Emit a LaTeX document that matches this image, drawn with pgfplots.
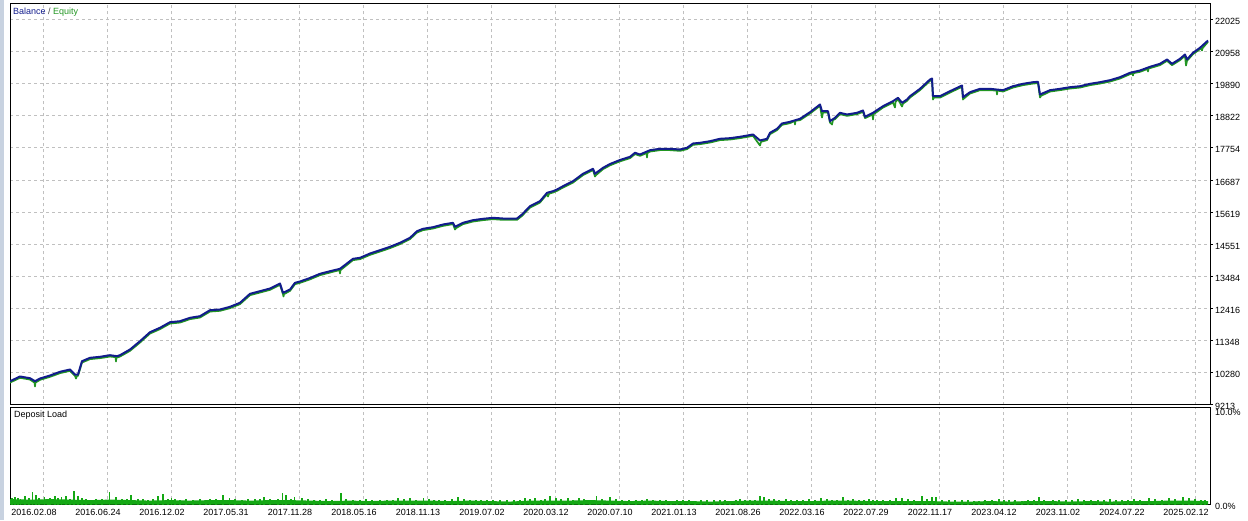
\documentclass[border=0pt]{standalone}
\usepackage{pgfplots}
\pgfplotsset{compat=1.18}
\usepackage{pgfplotstable}
\usepackage{fontspec}
\setmainfont{Liberation Sans}

\definecolor{bal}{RGB}{18,28,140}
\definecolor{eq}{RGB}{34,150,34}
\definecolor{load}{RGB}{20,168,20}
\definecolor{gridc}{RGB}{192,192,192}
\definecolor{winframe}{RGB}{200,210,224}

% balance, x = position along the test (pixels of the chart)
\pgfplotstableread{
x b
0 9988
10 10145
20 10088
25 9988
30 10078
40 10178
50 10301
60 10378
65 10211
68 10211
72 10654
80 10767
90 10800
100 10854
107 10820
110 10854
120 11043
130 11320
140 11619
150 11766
160 11952
170 11985
180 12098
190 12152
200 12351
210 12375
220 12464
230 12598
240 12897
250 12984
260 13073
270 13240
273 12930
280 13040
285 13263
290 13306
300 13423
310 13563
320 13649
330 13729
343 14062
350 14095
360 14238
370 14348
380 14461
390 14594
400 14761
407 14980
413 15060
423 15114
433 15203
443 15260
445 15127
453 15260
463 15347
473 15393
483 15426
493 15403
507 15403
512 15536
520 15812
530 15979
537 16258
543 16312
547 16368
553 16478
563 16644
573 16891
583 17057
585 16891
593 17090
600 17217
610 17350
620 17456
625 17590
630 17533
640 17676
650 17723
660 17723
670 17699
677 17756
683 17899
690 17922
700 17976
710 18056
720 18076
730 18122
743 18199
750 17999
757 18056
760 18255
767 18388
772 18565
780 18621
790 18721
800 18941
810 19197
812 18974
818 18974
820 18641
825 18754
830 18921
837 18864
847 18921
853 18997
855 18788
863 18921
873 19140
883 19307
888 19420
892 19254
897 19363
900 19473
910 19719
920 20029
922 20062
923 19473
930 19473
940 19640
952 19829
953 19440
960 19606
970 19719
980 19719
993 19673
1003 19806
1013 19886
1023 19939
1028 19952
1030 19530
1040 19673
1050 19719
1060 19773
1070 19806
1080 19886
1090 19939
1100 20006
1110 20106
1120 20252
1130 20329
1140 20452
1150 20552
1157 20695
1162 20552
1170 20718
1175 20861
1177 20695
1183 20918
1190 21084
1198 21327
}\balance

\pgfplotstableread{
x e
0 9943
10 10100
20 10043
24.5 9943
25 9812
25.5 9943
30 10033
40 10133
50 10256
60 10333
65 10166
66 10078
67 10166
68 10166
72 10609
80 10722
90 10755
100 10809
105.5 10790
106 10644
106.5 10790
107 10775
110 10809
120 10998
130 11275
140 11574
150 11721
160 11907
170 11940
180 12053
190 12107
200 12306
210 12330
220 12419
230 12553
240 12852
250 12939
260 13028
270 13195
273 12885
273.5 12807
274 12885
280 12995
285 13218
290 13261
300 13378
310 13518
320 13604
329.5 13684
330 13573
330.5 13684
343 14017
350 14050
360 14193
370 14303
380 14416
390 14549
400 14716
407 14935
413 15015
423 15069
433 15158
443 15215
445 15037
446 15082
453 15215
463 15302
473 15348
483 15381
493 15358
507 15358
512 15491
520 15767
530 15934
537 16213
538 16135
539 16230
543 16267
547 16323
553 16433
563 16599
573 16846
583 17012
585 16801
586 16846
593 17045
600 17172
610 17305
620 17411
625 17545
630 17488
636.5 17580
637 17433
637.5 17590
640 17631
650 17678
660 17678
670 17654
677 17711
683 17854
690 17877
700 17931
710 18011
720 18031
730 18077
743 18154
750 17833
751 17954
757 18011
760 18210
767 18343
772 18520
780 18576
784.5 18650
785 18531
785.5 18655
790 18676
800 18896
810 19152
812 18764
813 18929
818 18929
820 18596
822 18531
823 18680
825 18709
830 18876
837 18819
847 18876
853 18952
855 18743
862.5 18860
863 18698
863.5 18870
873 19095
883 19262
885 19097
885.5 19280
888 19375
892 19130
893 19225
897 19318
900 19428
910 19674
920 19984
922 20017
923 19363
924 19428
930 19428
940 19595
952 19784
953 19363
954 19400
960 19561
970 19674
980 19674
986.5 19660
987 19530
987.5 19660
993 19628
1003 19761
1013 19841
1023 19894
1028 19907
1030 19430
1031 19485
1040 19628
1050 19674
1060 19728
1070 19761
1080 19841
1090 19894
1100 19961
1110 20061
1120 20207
1122.5 20230
1123 20162
1123.5 20240
1130 20284
1137.5 20380
1138 20295
1138.5 20390
1140 20407
1150 20507
1157 20650
1162 20507
1170 20673
1175 20816
1176 20495
1177 20650
1183 20873
1190 21039
1191.5 21060
1192 20994
1192.5 21070
1198 21282
}\equity

% deposit load, %: solid band, small bumps, larger spikes
\pgfplotstableread{
x d
0 0.55
20 0.5
40 0.55
60 0.5
80 0.45
100 0.5
120 0.45
140 0.4
160 0.45
180 0.4
200 0.45
220 0.45
240 0.4
260 0.45
280 0.45
300 0.4
320 0.35
340 0.4
360 0.35
380 0.4
400 0.4
420 0.4
440 0.35
460 0.4
480 0.35
500 0.3
520 0.4
540 0.4
560 0.4
580 0.45
600 0.4
620 0.35
640 0.4
660 0.35
680 0.35
700 0.3
720 0.35
740 0.4
760 0.4
780 0.35
800 0.35
820 0.4
840 0.4
860 0.35
880 0.35
900 0.35
920 0.35
940 0.3
960 0.3
980 0.35
1000 0.3
1020 0.35
1040 0.35
1060 0.3
1080 0.35
1100 0.3
1120 0.35
1140 0.35
1160 0.4
1180 0.4
1198 0.35
}\loadbase

\pgfplotstableread[row sep=\\]{
x d\\
2 0.65\\ 8 0.7\\ 19 0.7\\ 29 0.65\\ 38 0.6\\ 48 0.65\\ 60 0.6\\ 72 0.7\\ 76 0.6\\
86 0.6\\ 92 0.55\\ 112 0.6\\ 117 0.55\\ 128 0.6\\ 133 0.55\\ 143 0.6\\ 158 0.55\\
165 0.6\\ 176 0.55\\ 183 0.5\\ 190 0.55\\ 196 0.5\\ 206 0.6\\ 225 0.55\\ 232 0.5\\
238 0.6\\ 250 0.55\\ 260 0.6\\ 268 0.55\\ 281 0.6\\ 298 0.55\\ 304 0.5\\ 316 0.55\\
322 0.5\\ 336 0.55\\ 343 0.5\\ 350 0.5\\ 362 0.5\\ 370 0.5\\ 377 0.45\\ 383 0.5\\
394 0.55\\ 406 0.5\\ 419 0.55\\ 424 0.5\\ 435 0.5\\ 454 0.55\\ 460 0.5\\ 466 0.45\\
471 0.5\\ 483 0.5\\ 490 0.45\\ 497 0.5\\ 510 0.5\\ 520 0.55\\ 531 0.5\\ 535 0.55\\
551 0.55\\ 563 0.5\\ 574 0.55\\ 580 0.5\\ 592 0.55\\ 612 0.5\\ 619 0.45\\ 626 0.5\\
632 0.45\\ 643 0.5\\ 650 0.45\\ 656 0.5\\ 667 0.45\\ 673 0.5\\ 679 0.45\\ 691 0.45\\
697 0.5\\ 704 0.45\\ 710 0.45\\ 715 0.5\\ 726 0.45\\ 735 0.5\\ 745 0.5\\ 759 0.55\\
769 0.5\\ 781 0.5\\ 787 0.45\\ 793 0.5\\ 805 0.5\\ 822 0.5\\ 827 0.45\\ 838 0.5\\
849 0.5\\ 854 0.45\\ 863 0.5\\ 873 0.45\\ 880 0.5\\ 898 0.55\\ 904 0.5\\ 917 0.55\\
932 0.5\\ 939 0.45\\ 945 0.45\\ 958 0.45\\ 964 0.4\\ 975 0.45\\ 982 0.45\\ 994 0.5\\
1005 0.45\\ 1012 0.4\\ 1018 0.45\\ 1024 0.5\\ 1034 0.5\\ 1049 0.45\\ 1056 0.45\\
1062 0.45\\ 1074 0.5\\ 1081 0.45\\ 1088 0.45\\ 1094 0.5\\ 1106 0.45\\ 1112 0.45\\
1118 0.5\\ 1130 0.5\\ 1145 0.55\\ 1152 0.5\\ 1165 0.55\\ 1185 0.55\\ 1195 0.5\\
}\loadbumps

\pgfplotstableread{
x d
5 0.8
10.7 0.6
15 0.84
22.5 1.28
26 1.0
34.6 0.77
40 0.7
45 0.84
51.7 0.8
56 0.84
64 1.38
68 0.84
81 0.47
99.5 1.3
106 0.8
121 0.95
138 0.47
148 0.9
153 1.1
161.5 0.7
170 0.47
200 0.55
213 0.95
219.5 0.7
245 0.58
254 0.77
272.5 1.2
276 1.0
284.6 0.77
292 0.66
310 0.5
331 1.13
356 0.55
388 0.66
400 0.66
413.5 0.66
429 0.47
442 0.55
448 0.77
477 0.47
504 0.47
515 0.66
525 0.66
540 0.9
546 0.66
558 0.66
569 0.66
586.5 0.9
600 0.8
606 0.55
637 0.55
661 0.4
685 0.37
720 0.4
730 0.55
740 0.48
750 0.85
754 0.78
764 0.55
776 0.55
799 0.55
811 0.66
817 0.55
833 0.78
843 0.55
859 0.55
867 0.48
886 0.66
892 0.66
912 0.85
922 0.78
926 0.78
952 0.48
969 0.4
989 0.55
999 0.48
1029 0.78
1043 0.48
1068 0.55
1100 0.55
1124 0.55
1139 0.66
1159 0.66
1173 0.78
1179 0.66
1191 0.48
}\loadspikes

\begin{document}
\begin{tikzpicture}
\useasboundingbox (0,0) rectangle (1248pt,520pt);
\fill[winframe] (0,0) rectangle (4pt,520pt);

\pgfplotsset{mt/.style={
  scale only axis,
  anchor=south west,
  width=1200pt,
  xmin=0, xmax=1200,
  xtick={33,97,161,225,289,353,417,481,545,609,673,737,801,865,929,993,1057,1121,1185},
  xmajorgrids,
  major grid style={gridc, dash pattern=on 3pt off 3pt, line width=0.8pt},
  axis line style={line width=1pt},
  tick label style={font=\fontsize{9}{10}\selectfont},
  ytick pos=right,
  yticklabel pos=right,
  xtick style={draw=none},
  tick align=outside,
  yticklabel style={anchor=west, inner sep=0pt},
}}

% balance / equity
\begin{axis}[mt,
  at={(10pt,115.5pt)},
  height=400.5pt,
  ymin=9213, ymax=22542,
  ymajorgrids,
  xticklabels={},
  ytick={9213,10280.67,11348.33,12416,13483.67,14551.33,15619,16686.67,17754.33,18822,19889.67,20957.33,22025},
  yticklabels={9213,10280,11348,12416,13484,14551,15619,16687,17754,18822,19890,20958,22025},
  ytick style={black, line width=0.8pt},
  major tick length=3pt,
  yticklabel style={xshift=2pt, yshift=-2pt},
]
\addplot[eq, line width=1.7pt, line join=round] table[x=x, y=e] {\equity};
\addplot[bal, line width=2pt, line join=round] table[x=x, y=b] {\balance};
\end{axis}

% deposit load
\begin{axis}[mt,
  at={(10pt,15.5pt)},
  height=97.5pt,
  ymin=0, ymax=10,
  ytick={10},
  yticklabels={10.0\%},
  extra y ticks={0},
  extra y tick labels={0.0\%},
  extra y tick style={yticklabel style={yshift=3.5pt}},
  ytick style={draw=none},
  major tick length=0pt,
  yticklabel style={xshift=5pt, yshift=-5pt},
  xticklabels={2016.02.08,2016.06.24,2016.12.02,2017.05.31,2017.11.28,2018.05.16,2018.11.13,2019.07.02,2020.03.12,2020.07.10,2021.01.13,2021.08.26,2022.03.16,2022.07.29,2022.11.17,2023.04.12,2023.11.02,2024.07.22,2025.02.12},
  xticklabel style={anchor=north, inner sep=0pt, xshift=-9pt, yshift=-5pt},
]
\addplot[fill=load, draw=none] table[x=x, y=d] {\loadbase} \closedcycle;
\addplot[ycomb, load, line width=1.6pt] table[x=x, y=d] {\loadbumps};
\addplot[ycomb, load, line width=1.5pt] table[x=x, y=d] {\loadspikes};
\end{axis}

\node[anchor=west, inner sep=0pt, font=\fontsize{9}{10}\selectfont] at (13pt,508pt)
  {\textcolor{bal}{Balance} \textcolor{darkgray}{/} \textcolor{eq}{Equity}};
\node[anchor=west, inner sep=0pt, font=\fontsize{9}{10}\selectfont] at (14pt,105pt) {Deposit Load};
\end{tikzpicture}
\end{document}
